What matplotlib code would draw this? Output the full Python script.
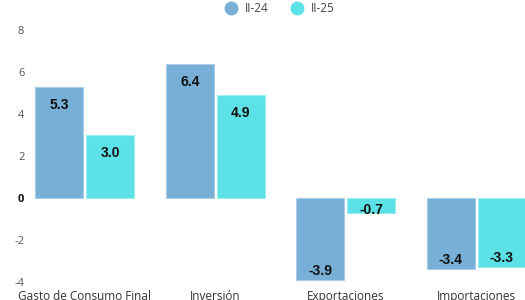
import matplotlib
matplotlib.use("Agg")
import matplotlib.pyplot as plt
from matplotlib.lines import Line2D
import numpy as np

categories = ["Gasto de Consumo Final", "Inversión", "Exportaciones", "Importaciones"]
series_names = ["II-24", "II-25"]
values_ii24 = [5.3, 6.4, -3.9, -3.4]
values_ii25 = [3.0, 4.9, -0.7, -3.3]
y_ticks = [-4, -2, 0, 2, 4, 6, 8]

colors = ["#78AFD7", "#5CE2E6"]
edge_colors = ["#A9CCE6", "#9CEEF0"]

W, H = 525, 300
fig = plt.figure(figsize=(W / 100, H / 100), dpi=100)
ax = fig.add_axes([19.5 / W, 18 / H, 522 / W, 252 / H])

x = np.arange(len(categories))
bw = 48 / 130.5
off = 25.5 / 130.5
px_per_unit = 252 / 12.0

for i, (vals, col, ec) in enumerate(zip([values_ii24, values_ii25], colors, edge_colors)):
    xs = x + (off if i else -off)
    ax.bar(xs, vals, width=bw, color=col, edgecolor=ec, linewidth=0.8, zorder=2)
    for xv, v in zip(xs, vals):
        length_px = abs(v) * px_per_unit
        if v >= 0:
            d = min(18, 0.3 * length_px)
            y = v - d / px_per_unit
        else:
            d = min(9, 0.2 * length_px)
            y = v + d / px_per_unit
        ax.text(xv, y, f"{v:.1f}", ha="center", va="center", fontsize=10,
                fontweight="bold", family="Liberation Sans", color="#111111", zorder=3)

ax.set_xlim(-0.5, len(categories) - 0.5)
ax.set_ylim(-4, 8)
ax.set_yticks(y_ticks)
ax.set_yticklabels([str(t) for t in y_ticks], family="Open Sans", fontsize=8, color="#555555")
for lab, t in zip(ax.get_yticklabels(), y_ticks):
    if t == 0:
        lab.set_fontweight("bold")
        lab.set_color("#111111")
ax.set_xticks(x)
ax.set_xticklabels(categories, family="Open Sans", fontsize=8.5, color="#333333")
ax.tick_params(axis="both", length=0)
ax.tick_params(axis="y", pad=-3.5)
ax.tick_params(axis="x", pad=6)
for s in ax.spines.values():
    s.set_visible(False)
ax.patch.set_alpha(0)

handles = [Line2D([0], [0], marker="o", linestyle="", markersize=9,
                  markerfacecolor=c, markeredgecolor=c) for c in colors]
fig.legend(handles, series_names, loc="center", bbox_to_anchor=(277 / W, 1 - 9 / H),
           ncol=2, frameon=False, handletextpad=0.2, columnspacing=1.4,
           prop={"family": "Open Sans", "size": 8.5}, labelcolor="#444444")

fig.savefig("out.png", dpi=100)
